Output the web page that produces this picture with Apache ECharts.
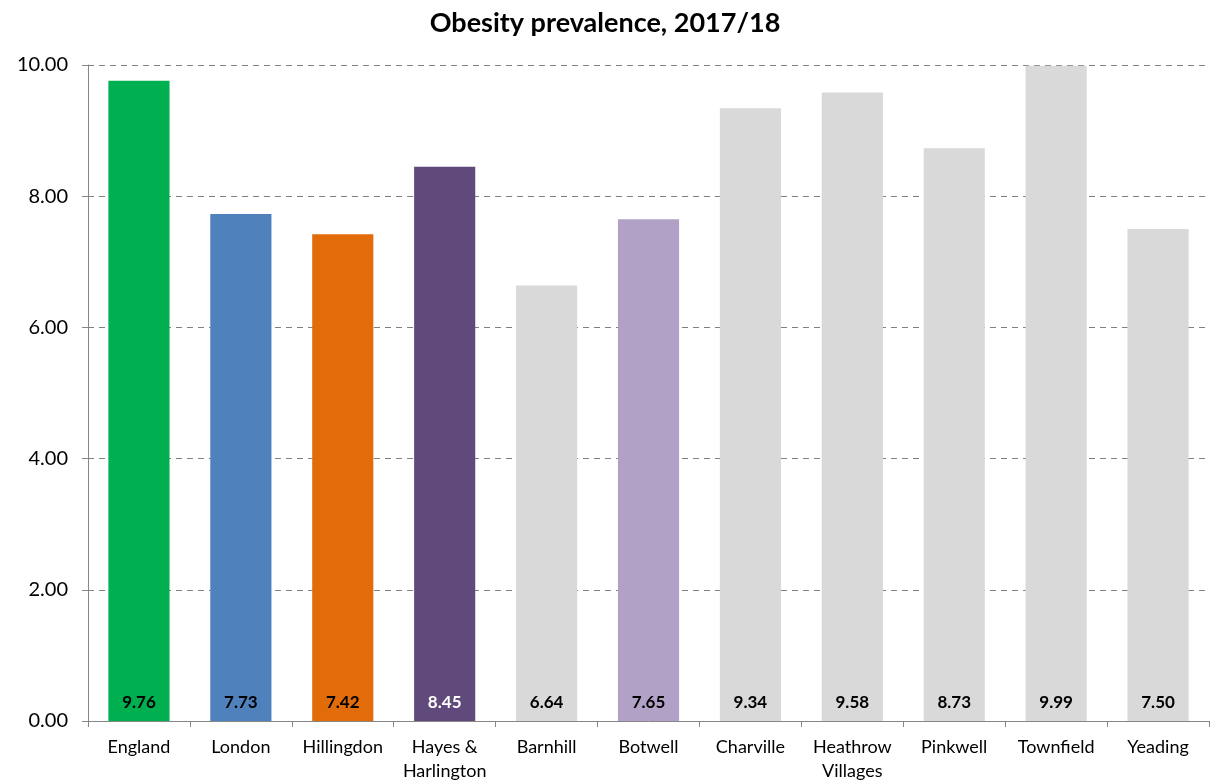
<!DOCTYPE html>
<html><head><meta charset="utf-8">
<script src="https://cdn.jsdelivr.net/npm/echarts@6/dist/echarts.min.js"></script>
<style>html,body{margin:0;padding:0;background:#fff}#c{width:1210px;height:781px}</style>
</head><body><div id="c"></div>
<script>
const categories = ['England','London','Hillingdon','Hayes &\nHarlington','Barnhill','Botwell','Charville','Heathrow\nVillages','Pinkwell','Townfield','Yeading'];
const values = [9.76, 7.73, 7.42, 8.45, 6.64, 7.65, 9.34, 9.58, 8.73, 9.99, 7.50];
const barColors = ['#00B050','#4F81BD','#E36C0A','#604A7B','#D9D9D9','#B2A1C7','#D9D9D9','#D9D9D9','#D9D9D9','#D9D9D9','#D9D9D9'];
const labelColors = ['#000','#000','#000','#fff','#000','#000','#000','#000','#000','#000','#000'];
const yTicks = [0, 2, 4, 6, 8, 10];

const font = 'Lato, "Open Sans", sans-serif';
const chart = echarts.init(document.getElementById('c'));
chart.setOption({
  animation: false,
  title: {text: 'Obesity prevalence, 2017/18', left: 'center', top: 5,
    textStyle: {fontFamily: font, fontSize: 27, fontWeight: 'bold', color: '#000'}},
  grid: {left: 88, right: 1, top: 65, bottom: 60, containLabel: false, outerBoundsMode: 'none'},
  xAxis: {type: 'category', data: categories,
    axisLine: {lineStyle: {color: '#868686', width: 1}},
    axisTick: {show: true, length: 6, lineStyle: {color: '#868686'}},
    axisLabel: {fontFamily: font, fontSize: 18, color: '#000', margin: 14, lineHeight: 24, interval: 0}},
  yAxis: {type: 'value', min: yTicks[0], max: yTicks[yTicks.length-1], interval: 2,
    axisLine: {show: true, lineStyle: {color: '#868686'}},
    axisTick: {show: true, length: 6, lineStyle: {color: '#868686'}},
    axisLabel: {fontFamily: font, fontSize: 20, color: '#000', margin: 20,
      formatter: v => v.toFixed(2)},
    splitLine: {lineStyle: {color: '#808080', type: [6, 5], width: 1}}},
  series: [{type: 'bar', barCategoryGap: '40%',
    data: values.map((v, i) => ({value: v, itemStyle: {color: barColors[i]},
      label: {color: labelColors[i]}})),
    label: {show: true, position: 'insideBottom', distance: 10,
      fontFamily: font, fontSize: 17, fontWeight: 'bold',
      formatter: p => p.value.toFixed(2)}}]
});
</script></body></html>
